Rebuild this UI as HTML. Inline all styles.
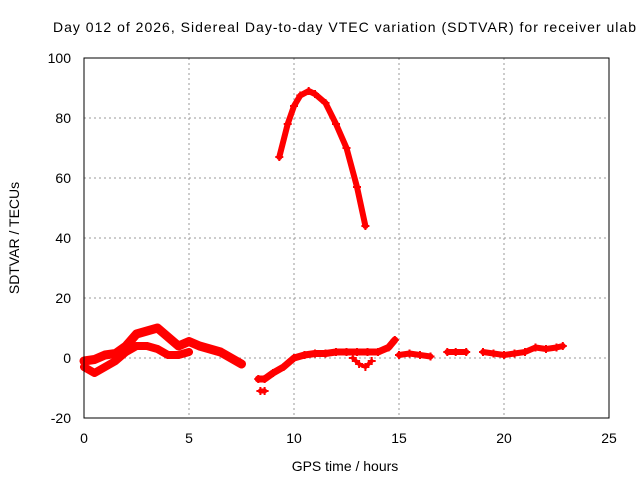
<!DOCTYPE html>
<html><head><meta charset="utf-8"><style>
body{margin:0;background:#fff}
svg{display:block;font-family:"Liberation Sans",sans-serif}
</style></head><body>
<svg id="c" width="640" height="480">
<text x="53" y="32" font-size="14" textLength="583" lengthAdjust="spacing">Day 012 of 2026, Sidereal Day-to-day VTEC variation (SDTVAR) for receiver ulab</text>
<text x="345" y="471" font-size="14" text-anchor="middle">GPS time / hours</text>
<text transform="translate(19,238) rotate(-90)" font-size="14" text-anchor="middle">SDTVAR / TECUs</text>
<g id="grid"></g><g id="marks"></g>
<rect x="84" y="58" width="525" height="360" fill="none" stroke="#000" stroke-width="1"/>
</svg>
<script>
const xTicks=[0,5,10,15,20,25];
const yTicks=[-20,0,20,40,60,80,100];
const upperH=[0,0.5,1,1.5,2,2.5,3,3.5,4,4.5,5,5.5,6,6.5,7,7.5];
const upperV=[-1,-0.5,1,1.5,4,8,9,10,7,4,5.5,4,3,2,0,-2];
const lowerH=[0,0.5,1,1.5,2,2.5,3,3.5,4,4.5,5];
const lowerV=[-3,-5,-3,-1,2,4,4,3,1,1,2];
const midH=[8.3,8.6,9,9.5,10,10.5,11,11.5,12,12.5,13,13.5,14,14.5,14.8];
const midV=[-7,-7,-5,-3,0,1,1.5,1.5,2,2,2,2,2,3.5,6];
const dipH=[12.8,13.1,13.4,13.7];
const dipV=[0,-2,-3,-1];
const low2H=[8.4,8.6];
const low2V=[-11,-11];
const tailH=[15,15.5,16,16.5,17.3,17.7,18.2,19,19.5,20,20.5,21,21.5,22,22.5,22.8];
const tailV=[1,1.5,1,0.5,2,2,2,2,1.5,1,1.5,2,3.5,3,3.5,4];
const tailGap=[0,0,0,0,1,0,0,1,0,0,0,0,0,0,0,0];
const arcH=[9.3,9.7,10,10.3,10.7,11,11.5,12,12.5,13,13.4];
const arcV=[67,78,84,87.5,89,88,85,78,70,57,44];
const X=h=>84+h*21, Y=v=>358-v*3;
const ns="http://www.w3.org/2000/svg", svg=document.getElementById('c');
const grid=document.getElementById('grid'), marks=document.getElementById('marks');
function mk(t,a,p){const e=document.createElementNS(ns,t);for(const k in a)e.setAttribute(k,a[k]);p.appendChild(e);return e;}
xTicks.forEach(t=>{
 if(t>0&&t<25){const g=mk('line',{x1:X(t),x2:X(t),y1:58,y2:418,stroke:'#999','stroke-dasharray':'2,3'},grid);
 
 }
 const l=mk('text',{x:X(t),y:443,'font-size':14,'text-anchor':'middle'},svg);l.textContent=t;
 
 
});
yTicks.forEach(t=>{
 if(t>-20&&t<100){const g=mk('line',{x1:84,x2:609,y1:Y(t),y2:Y(t),stroke:'#999','stroke-dasharray':'2,3'},grid);
 
 }
 const l=mk('text',{x:71,y:Y(t)+5,'font-size':14,'text-anchor':'end'},svg);l.textContent=t;
 
 
});
function series(H,V,name,w,gaps){
 let d='';H.forEach((h,i)=>{d+=((i==0||(gaps&&gaps[i]))?'M':'L')+X(h)+' '+Y(V[i])+' ';});
 const p=mk('path',{d:d,fill:'none',stroke:'#f00','stroke-width':w,'stroke-linejoin':'round','stroke-linecap':'round'},marks);
 
 
 H.forEach((h,i)=>{const m=mk('path',{d:`M${X(h)-4} ${Y(V[i])}h8M${X(h)} ${Y(V[i])-4}v8`,stroke:'#f00','stroke-width':2},marks);
  
  });
}
series(upperH,upperV,'upper-track',9);
series(lowerH,lowerV,'lower-track',8);
series(midH,midV,'mid-track',7);
series(dipH,dipV,'dip-track',4);
series(low2H,low2V,'low-segment',5);
series(tailH,tailV,'tail-track',6,tailGap);
series(arcH,arcV,'arc-track',6);
</script>
</body></html>
